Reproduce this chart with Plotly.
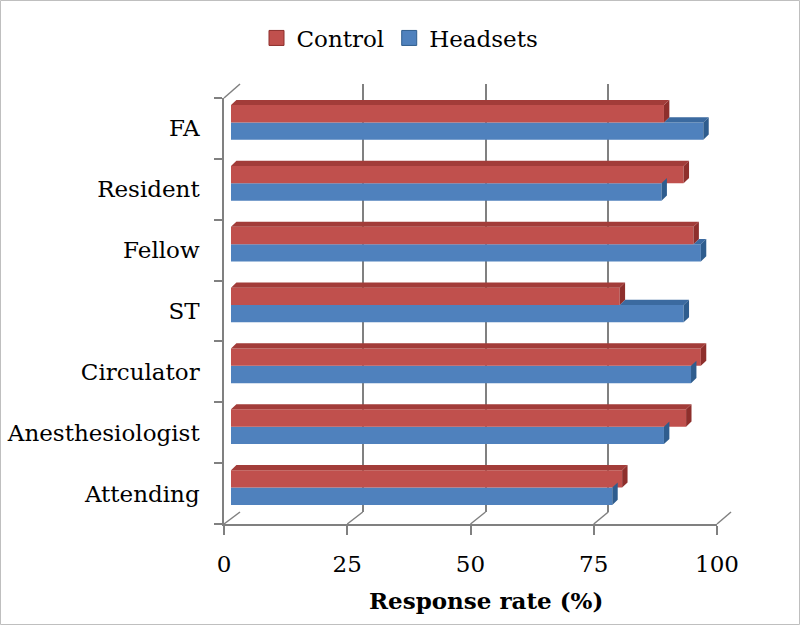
import plotly.graph_objects as go

# ---------------- data (top to bottom as in the picture) ----------------
categories = ["FA", "Resident", "Fellow", "ST", "Circulator", "Anesthesiologist", "Attending"]
control = [88, 92, 94, 79, 95.5, 92.5, 79.5]
headsets = [96, 87.5, 95.5, 92, 93.5, 88, 77.5]
x_ticks = [0, 25, 50, 75, 100]
series_names = ["Control", "Headsets"]
x_title = "Response rate (%)"

# bottom-to-top order for the y axis
cats_bt = categories[::-1]
ctrl_bt = control[::-1]
head_bt = headsets[::-1]
pos = list(range(len(cats_bt)))

W, H = 800, 625


def px(x):
    return x / W


def py(y):
    return (H - y) / H


RED = "#C0504D"
BLUE = "#4F81BD"
RED_CAP = "#8E2F2C"
RED_TOP = "#A23C39"
BLUE_CAP = "#2F5D8E"
BLUE_TOP = "#3B6AA0"
GRAY = "#808080"
FONT = "DejaVu Serif"
FS = 23

BARGAP = 0.43
bw = (1 - BARGAP) / 2
DX = 1.1
DY = 0.085

fig = go.Figure()

# invisible anchor trace so the wall-grid subplot is drawn
fig.add_trace(go.Scatter(x=[0], y=[-10], mode="markers", marker=dict(opacity=0),
                         showlegend=False, hoverinfo="skip", xaxis="x", yaxis="y"))

fig.add_trace(go.Bar(y=pos, x=head_bt, orientation="h", name=series_names[1],
                     marker=dict(color=BLUE, line=dict(width=0)),
                     xaxis="x2", yaxis="y2", showlegend=False))
fig.add_trace(go.Bar(y=pos, x=ctrl_bt, orientation="h", name=series_names[0],
                     marker=dict(color=RED, line=dict(width=0)),
                     xaxis="x2", yaxis="y2", showlegend=False))


def poly_trace(xs, ys, color):
    return go.Scatter(x=xs, y=ys, mode="lines", fill="toself", fillcolor=color,
                      line=dict(width=0, color=color), hoverinfo="skip",
                      showlegend=False, xaxis="x2", yaxis="y2")


# 3D faces computed from the values
bt_x, bt_y, bc_x, bc_y, rc_x, rc_y, rt_x, rt_y = ([] for _ in range(8))
for p, c, h in zip(pos, ctrl_bt, head_bt):
    if h > c:
        bt_x += [c, h, h + DX, c + DX, None]
        bt_y += [p, p, p + DY, p + DY, None]
    bc_x += [h, h + DX, h + DX, h, None]
    bc_y += [p - bw, p - bw + DY, p + DY, p, None]
    rc_x += [c, c + DX, c + DX, c, None]
    rc_y += [p, p + DY, p + bw + DY, p + bw, None]
    rt_x += [0, c, c + DX, DX, None]
    rt_y += [p + bw, p + bw, p + bw + DY, p + bw + DY, None]

fig.add_trace(poly_trace(bt_x, bt_y, BLUE_TOP))
fig.add_trace(poly_trace(bc_x, bc_y, BLUE_CAP))
fig.add_trace(poly_trace(rc_x, rc_y, RED_CAP))
fig.add_trace(poly_trace(rt_x, rt_y, RED_TOP))

# front-axis subplot anchor + legend entries (square swatches)
fig.add_trace(go.Scatter(x=[None], y=[None], mode="markers", name=series_names[0],
                         marker=dict(symbol="square", size=15, color=RED,
                                     line=dict(width=1, color=RED_CAP)),
                         xaxis="x3", yaxis="y3", legendrank=1))
fig.add_trace(go.Scatter(x=[None], y=[None], mode="markers", name=series_names[1],
                         marker=dict(symbol="square", size=15, color=BLUE,
                                     line=dict(width=1, color=BLUE_CAP)),
                         xaxis="x3", yaxis="y3", legendrank=2))

# frame decorations (3D floor / wall edges)
shapes = []
for v in x_ticks:
    fx = 224 + (717 - 224) * v / 100
    bx = 240 + (731 - 240) * v / 100
    shapes.append(dict(type="line", xref="paper", yref="paper",
                       x0=px(fx), y0=py(524), x1=px(bx), y1=py(512),
                       line=dict(color=GRAY, width=1.5), layer="below"))
shapes.append(dict(type="line", xref="paper", yref="paper",
                   x0=px(224), y0=py(98), x1=px(240), y1=py(84),
                   line=dict(color=GRAY, width=1.5), layer="below"))
shapes.append(dict(type="rect", xref="paper", yref="paper",
                   x0=px(0.5), y0=py(624.5), x1=px(799.5), y1=py(0.5),
                   line=dict(color="#BFBFBF", width=1), layer="below"))

fig.update_layout(
    width=W, height=H, autosize=False,
    margin=dict(l=0, r=0, t=0, b=0, pad=0, autoexpand=False),
    paper_bgcolor="white",
    plot_bgcolor="rgba(0,0,0,0)",
    barmode="group",
    bargap=BARGAP,
    bargroupgap=0,
    font=dict(family=FONT, size=FS, color="#000000"),
    showlegend=True,
    legend=dict(orientation="h", x=0.5, xanchor="center", y=py(38), yanchor="middle",
                font=dict(family=FONT, size=FS, color="#000000"),
                bgcolor="rgba(0,0,0,0)", itemwidth=30),
    # back wall grid
    xaxis=dict(domain=[px(240), px(731)], range=[0, 100], tickvals=x_ticks,
               showgrid=True, gridcolor=GRAY, gridwidth=1.6, showticklabels=False,
               ticks="", zeroline=False, showline=False, anchor="y", fixedrange=True,
               automargin=False),
    yaxis=dict(domain=[py(512), py(84)], range=[0, 1], showgrid=False,
               showticklabels=False, ticks="", zeroline=False, showline=False,
               anchor="x", fixedrange=True, automargin=False),
    # bars
    xaxis2=dict(domain=[px(231), px(723)], range=[0, 100], visible=False,
                anchor="y2", fixedrange=True, automargin=False),
    yaxis2=dict(domain=[py(518), py(92)], range=[-0.5, 6.5], visible=False,
                anchor="x2", fixedrange=True, automargin=False),
    # front axes with labels
    xaxis3=dict(domain=[px(224), px(717)], range=[0, 100], tickvals=x_ticks,
                ticks="outside", ticklen=9, tickcolor=GRAY, tickwidth=1.5,
                showline=True, linecolor=GRAY, linewidth=1.5, showgrid=False,
                zeroline=False, tickfont=dict(family=FONT, size=FS, color="#000000"),
                anchor="y3", ticklabelstandoff=10, fixedrange=True, automargin=False),
    yaxis3=dict(domain=[py(524), py(98)], range=[-0.5, 6.5], tickvals=pos,
                ticktext=cats_bt, ticks="", showline=True, linecolor=GRAY,
                linewidth=1.5, showgrid=False, zeroline=False,
                minor=dict(tickvals=[i - 0.5 for i in range(len(cats_bt) + 1)],
                           ticks="outside", ticklen=8, tickcolor=GRAY, tickwidth=1.5,
                           showgrid=False),
                tickfont=dict(family=FONT, size=FS, color="#000000"),
                anchor="x3", ticklabelstandoff=18, fixedrange=True, automargin=False),
    shapes=shapes,
    annotations=[dict(text="<b>" + x_title + "</b>", xref="paper", yref="paper",
                      x=px(486), y=py(600), xanchor="center", yanchor="middle",
                      showarrow=False, font=dict(family=FONT, size=FS, color="#000000"))],
)

fig.write_html("out.html", config={"displayModeBar": False, "responsive": False},
               post_script="document.body.style.margin='0px';")
